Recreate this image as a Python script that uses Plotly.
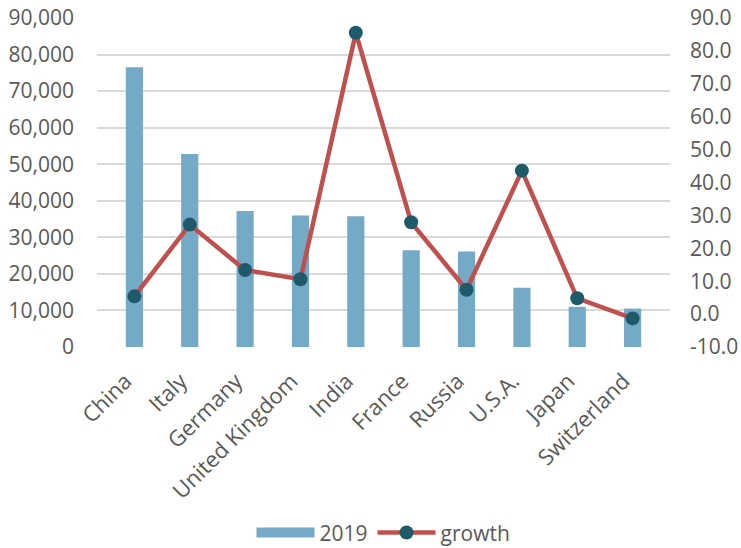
import plotly.graph_objects as go

countries = ["China", "Italy", "Germany", "United Kingdom", "India",
             "France", "Russia", "U.S.A.", "Japan", "Switzerland"]
values_2019 = [76500, 52800, 37200, 36000, 35800, 26500, 26100, 16200, 11000, 10500]
growth = [5.4, 27.2, 13.4, 10.6, 85.5, 27.9, 7.4, 43.6, 4.8, -1.3]
growth_ticks = [-10, 0, 10, 20, 30, 40, 50, 60, 70, 80, 90]

FONT = "Open Sans"
TEXT = "#595959"
GRID = "#d9d9d9"
BAR = "#74a9c7"
SIZE = 21

fig = go.Figure()
fig.add_trace(go.Bar(
    x=countries, y=values_2019, name="2019",
    marker=dict(color=BAR, line=dict(width=0)),
    yaxis="y", showlegend=False,
))
# wide swatch for the bar series in the legend
fig.add_trace(go.Scatter(
    x=[None], y=[None], name="2019", mode="lines",
    line=dict(color=BAR, width=14), yaxis="y",
))
fig.add_trace(go.Scatter(
    x=countries, y=growth, name="growth", mode="lines+markers",
    line=dict(color="#c0504d", width=4.5),
    marker=dict(color="#1f5a6b", size=14),
    yaxis="y2",
))

fig.update_layout(
    width=741, height=548,
    margin=dict(l=97, r=71, t=18, b=201, autoexpand=False),
    paper_bgcolor="white", plot_bgcolor="white",
    font=dict(family=FONT, size=SIZE, color=TEXT),
    bargap=0.69,
    showlegend=True,
    legend=dict(orientation="h", x=0.5, xanchor="center", y=-0.565, yanchor="middle",
                font=dict(size=SIZE, color=TEXT), itemwidth=58, traceorder="normal"),
    xaxis=dict(tickangle=-45, showgrid=False, showline=False, zeroline=False,
               ticks="", automargin=False, ticklabelstandoff=16, ticklabelshift=-9,
               tickfont=dict(size=22, color=TEXT)),
    yaxis=dict(range=[0, 90000], dtick=10000, tickformat=",", showgrid=True,
               gridcolor=GRID, gridwidth=1.5, zeroline=False, showline=False,
               ticks="", ticklabelstandoff=22, automargin=False,
               tickfont=dict(size=SIZE, color=TEXT)),
    yaxis2=dict(range=[-10, 90], tickvals=growth_ticks,
                ticktext=[f"{v:.1f}" for v in growth_ticks], overlaying="y",
                side="right", showgrid=False, zeroline=False, showline=False,
                ticks="", ticklabelstandoff=19, automargin=False,
                tickfont=dict(size=SIZE, color=TEXT)),
)

fig.write_html("out.html")
